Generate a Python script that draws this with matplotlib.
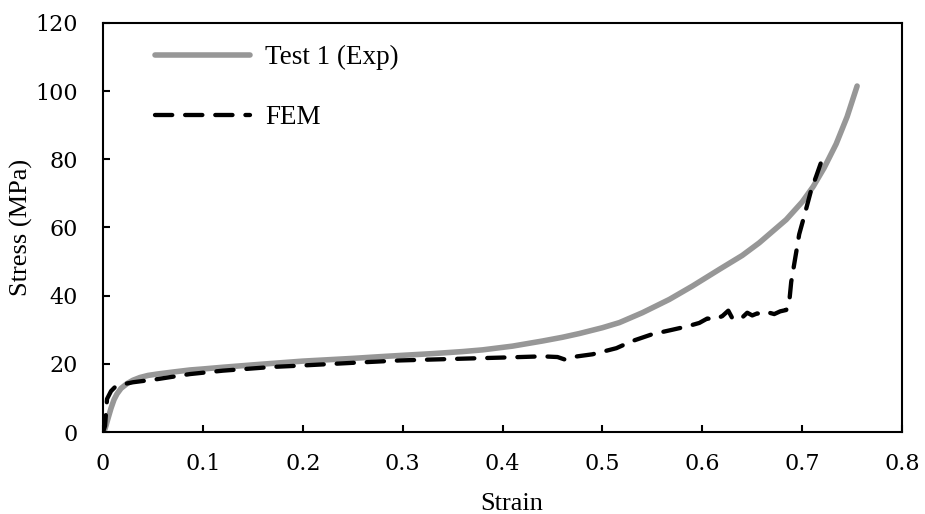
import matplotlib
matplotlib.use("Agg")
import matplotlib.pyplot as plt

plt.rcParams['font.family'] = ['Liberation Serif', 'DejaVu Serif']

# Experimental curve (Test 1)
exp_strain = [0.0, 0.002, 0.005, 0.008, 0.011, 0.014, 0.018, 0.024, 0.03, 0.037,
              0.045, 0.054, 0.07, 0.087, 0.1, 0.12, 0.15, 0.177, 0.2, 0.25,
              0.277, 0.3, 0.33, 0.36, 0.38, 0.41, 0.44, 0.46, 0.477, 0.5,
              0.517, 0.54, 0.567, 0.59, 0.617, 0.64, 0.657, 0.684, 0.7, 0.711,
              0.722, 0.734, 0.745, 0.755]
exp_stress = [0.0, 0.9, 4.0, 7.0, 9.5, 11.2, 12.8, 14.2, 15.2, 16.0,
              16.6, 17.0, 17.6, 18.2, 18.5, 19.0, 19.7, 20.3, 20.8, 21.6,
              22.1, 22.5, 23.0, 23.6, 24.1, 25.2, 26.7, 27.8, 28.9, 30.6,
              32.1, 35.0, 38.9, 42.8, 47.7, 51.8, 55.5, 62.3, 67.5, 72.0,
              77.5, 84.5, 92.5, 101.5]

# FEM curve
fem_strain = [0.0, 0.002, 0.004, 0.008, 0.012, 0.02, 0.03, 0.054, 0.087, 0.12,
              0.17, 0.192, 0.25, 0.297, 0.37, 0.407, 0.44, 0.455, 0.462, 0.47,
              0.49, 0.514, 0.53, 0.55, 0.57, 0.585, 0.597, 0.605, 0.612, 0.62,
              0.626, 0.63, 0.636, 0.64, 0.645, 0.65, 0.655, 0.66, 0.667, 0.672,
              0.678, 0.684, 0.687, 0.689, 0.694, 0.697, 0.702, 0.709, 0.714, 0.72,
              0.724]
fem_stress = [0.0, 1.8, 9.7, 12.0, 13.2, 14.0, 14.6, 15.5, 17.0, 18.0,
              19.1, 19.4, 20.3, 21.0, 21.6, 21.9, 22.2, 22.0, 21.3, 22.0,
              22.8, 24.6, 26.7, 28.7, 30.0, 31.0, 32.0, 33.3, 33.0, 34.0,
              35.6, 33.4, 34.0, 33.6, 35.0, 34.2, 34.8, 34.4, 35.0, 34.6,
              35.4, 35.8, 38.0, 44.0, 52.7, 58.0, 63.3, 71.0, 75.0, 80.0,
              81.5]

x_ticks = [0, 0.1, 0.2, 0.3, 0.4, 0.5, 0.6, 0.7, 0.8]
x_tick_labels = ['0', '0.1', '0.2', '0.3', '0.4', '0.5', '0.6', '0.7', '0.8']
y_ticks = [0, 20, 40, 60, 80, 100, 120]
y_tick_labels = ['0', '20', '40', '60', '80', '100', '120']

serif = ['Liberation Serif', 'DejaVu Serif']
tickfont = ['DejaVu Serif']

fig = plt.figure(figsize=(9.25, 5.14), dpi=100)
ax = fig.add_axes([0.1114, 0.1595, 0.8638, 0.7958])

ax.plot(exp_strain, exp_stress, color='#979797', lw=4.0, solid_capstyle='round',
        solid_joinstyle='round', label='Test 1 (Exp)', zorder=2)
ax.plot(fem_strain, fem_stress, color='black', lw=3.1, linestyle=(0, (4.0, 3.0)),
        dash_capstyle='round', label='FEM', zorder=3)

ax.set_xlim(0, 0.8)
ax.set_ylim(0, 120)
ax.set_xticks(x_ticks)
ax.set_xticklabels(x_tick_labels, fontfamily=tickfont, fontsize=16)
ax.set_yticks(y_ticks)
ax.set_yticklabels(y_tick_labels, fontfamily=tickfont, fontsize=16)

for s in ax.spines.values():
    s.set_linewidth(1.5)
ax.tick_params(axis='both', direction='in', length=5, width=1.5)
ax.tick_params(axis='x', pad=15)
ax.tick_params(axis='y', pad=18)

ax.set_xlabel('Strain', fontsize=19, fontfamily=serif)
ax.set_ylabel('Stress (MPa)', fontsize=19, fontfamily=serif)
ax.xaxis.set_label_coords(0.511, -0.15)
ax.yaxis.set_label_coords(-0.088, 0.5)

leg = ax.legend(loc='upper left', bbox_to_anchor=(0.035, 1.006), frameon=False,
                prop={'family': serif, 'size': 19.5},
                handlelength=3.5, labelspacing=1.30, handletextpad=0.55)

fig.savefig('out.png', dpi=100)
